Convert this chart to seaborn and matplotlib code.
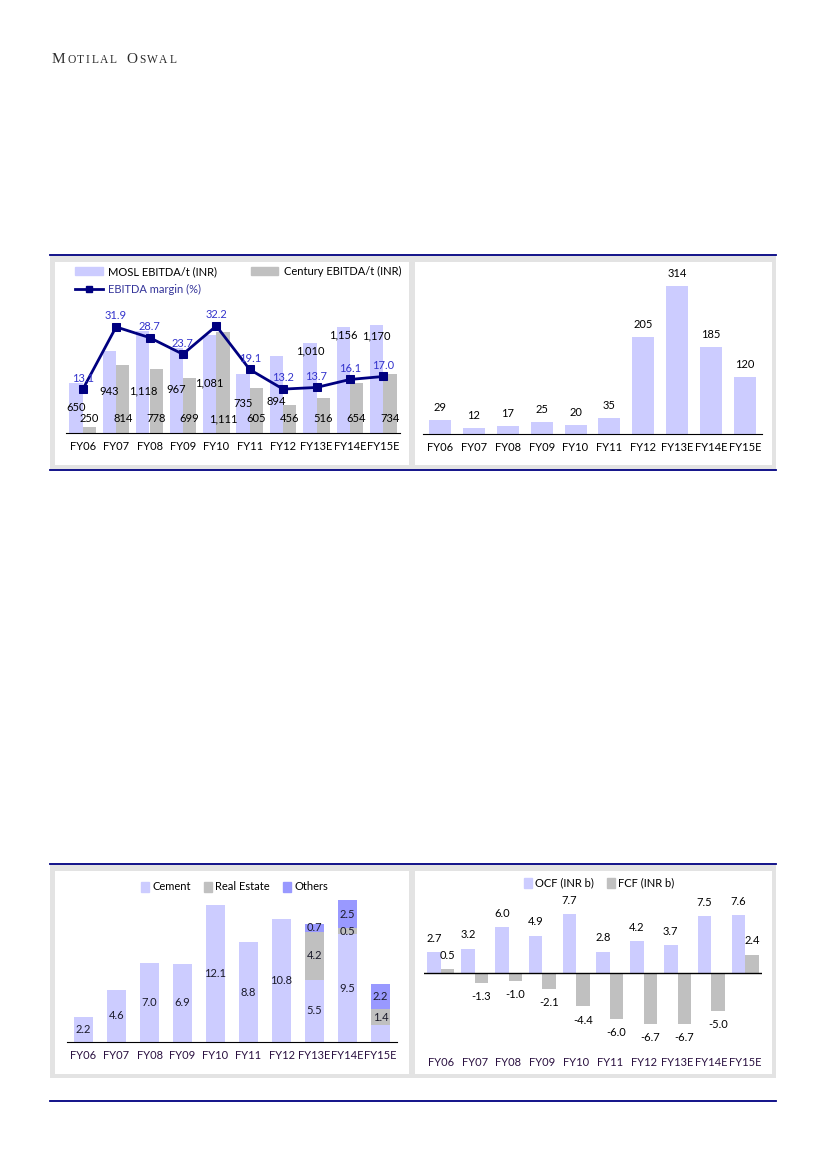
import matplotlib
matplotlib.use("Agg")
import matplotlib.pyplot as plt
from matplotlib.patches import Rectangle, Patch
from matplotlib.lines import Line2D
import seaborn as sns
import pandas as pd
import numpy as np

years = ["FY06", "FY07", "FY08", "FY09", "FY10", "FY11", "FY12", "FY13E", "FY14E", "FY15E"]
mosl_ebitda_t = [650, 943, 1118, 967, 1081, 735, 894, 1010, 1156, 1170]
century_ebitda_t = [250, 814, 778, 699, 1111, 605, 456, 516, 654, 734]
ebitda_margin = [13.1, 31.9, 28.7, 23.7, 32.2, 19.1, 13.2, 13.7, 16.1, 17.0]
# where the MOSL labels sit in the source (some were moved off the line)
mosl_label_at = [434, 575, 584, 590, 650, 470, 485, 940, 1085, 1077]
top_right = [29, 12, 17, 25, 20, 35, 205, 314, 185, 120]
cement = [2.2, 4.6, 7.0, 6.9, 12.1, 8.8, 10.8, 5.5, 9.5, 1.5]
real_estate = [0, 0, 0, 0, 0, 0, 0, 4.2, 0.5, 1.4]
others = [0, 0, 0, 0, 0, 0, 0, 0.7, 2.5, 2.2]
ocf = [2.7, 3.2, 6.0, 4.9, 7.7, 2.8, 4.2, 3.7, 7.5, 7.6]
fcf = [0.5, -1.3, -1.0, -2.1, -4.4, -6.0, -6.7, -6.7, -5.0, 2.4]

LAV = "#CCCCFF"
GRAY = "#C0C0C0"
PURP = "#9999FF"
NAVY = "#000080"
W, H = 826, 1169

plt.rcParams["font.family"] = ["Lato", "DejaVu Sans"]
plt.rcParams["font.size"] = 8


def box(x0, y0, x1, y1):
    return [x0 / W, 1 - y1 / H, (x1 - x0) / W, (y1 - y0) / H]


def rect(fig, x0, y0, x1, y1, color, z):
    fig.add_artist(Rectangle((x0 / W, 1 - y1 / H), (x1 - x0) / W, (y1 - y0) / H,
                             transform=fig.transFigure, color=color, zorder=z, lw=0))


def hline(fig, y, x0=50, x1=776):
    fig.add_artist(Line2D([x0 / W, x1 / W], [1 - y / H] * 2, transform=fig.transFigure,
                          color=NAVY, lw=1.3))


def clean(ax, keep_bottom=True):
    for s in ["top", "right", "left"]:
        ax.spines[s].set_visible(False)
    ax.spines["bottom"].set_visible(keep_bottom)
    ax.spines["bottom"].set_color("black")
    ax.set_yticks([])
    ax.set_xlabel("")
    ax.set_ylabel("")
    ax.set_facecolor("none")
    ax.tick_params(axis="x", length=0, pad=6, labelsize=8)


def small_caps(fig, words, x, y, big=11, small=8.3, gap=1.6, space=8):
    # draws text in small capitals, letter by letter
    r = fig.canvas.get_renderer()
    for w in words:
        for k, ch in enumerate(w):
            t = fig.text(x / W, 1 - y / H, ch, family="Liberation Serif",
                         fontsize=big if k == 0 else small, color="#2b2b2b")
            x += t.get_window_extent(r).width + gap
        x += space


fig = plt.figure(figsize=(8.26, 11.69), dpi=100)

small_caps(fig, ["MOTILAL", "OSWAL"], 52, 63)

# panel frames
for top in (256, 865):
    rect(fig, 50, top, 776, top + 213, "#E3E3E3", -3)
    rect(fig, 55, top + 6, 409, top + 209, "white", -2)
    rect(fig, 415, top + 6, 772, top + 209, "white", -2)
hline(fig, 255)
hline(fig, 470)
hline(fig, 864)
hline(fig, 1101)

# chart 1: EBITDA/t and margin
ax1 = fig.add_axes(box(66, 300, 400, 433))
df1 = pd.DataFrame({"year": years * 2,
                    "val": mosl_ebitda_t + century_ebitda_t,
                    "series": ["MOSL EBITDA/t (INR)"] * 10 + ["Century EBITDA/t (INR)"] * 10})
sns.barplot(data=df1, x="year", y="val", hue="series", palette=[LAV, GRAY],
            width=0.8, saturation=1, legend=False, ax=ax1)
ax1.set_ylim(200, 1400)
ax1.set_xlim(-0.5, 9.5)
clean(ax1)
for i, v in enumerate(mosl_ebitda_t):
    ax1.text(i - 0.2, mosl_label_at[i], f"{v:,}", ha="center", va="center", fontsize=8)
for i, v in enumerate(century_ebitda_t):
    ax1.text(i + 0.2, 330, f"{v:,}", ha="center", va="center", fontsize=8)
ax1b = ax1.twinx()
sns.lineplot(x=np.arange(10), y=ebitda_margin, ax=ax1b, color=NAVY, marker="s",
             markersize=6, markeredgecolor=NAVY, linewidth=2)
ax1b.set_ylim(0, 40)
clean(ax1b, keep_bottom=False)
for i, m in enumerate(ebitda_margin):
    ax1b.annotate(f"{m:.1f}", (i, m), xytext=(0, 8), textcoords="offset points",
                  ha="center", va="center", color="#3333CC", fontsize=8)
leg1 = ax1b.legend(handles=[Patch(color=LAV, label="MOSL EBITDA/t (INR)"),
                            Line2D([], [], color=NAVY, lw=2, marker="s", markersize=5,
                                   label="EBITDA margin (%)"),
                            Patch(color=GRAY, label="Century EBITDA/t (INR)")],
                   ncol=2, loc="upper left", bbox_to_anchor=(75 / W, 1 - 266 / H),
                   bbox_transform=fig.transFigure, frameon=False, fontsize=8,
                   handlelength=2.5, handletextpad=0.5, columnspacing=3.0,
                   borderpad=0, borderaxespad=0, labelspacing=0.6)
leg1.get_texts()[1].set_color("#333399")

# chart 2
ax2 = fig.add_axes(box(423, 269, 762, 434))
sns.barplot(x=years, y=top_right, color=LAV, saturation=1, width=0.65, ax=ax2)
ax2.set_ylim(0, 350)
ax2.set_xlim(-0.5, 9.5)
clean(ax2)
ax2.bar_label(ax2.containers[0], fmt="{:.0f}", padding=5, fontsize=8)

# chart 3: stacked by segment
ax3 = fig.add_axes(box(67, 883, 397, 1042))
tot = np.array(cement) + np.array(real_estate) + np.array(others)
mid = np.array(cement) + np.array(real_estate)
sns.barplot(x=years, y=tot, color=PURP, saturation=1, width=0.6, ax=ax3)
sns.barplot(x=years, y=mid, color=GRAY, saturation=1, width=0.6, ax=ax3)
sns.barplot(x=years, y=cement, color=LAV, saturation=1, width=0.6, ax=ax3)
ax3.set_ylim(0, 14)
ax3.set_xlim(-0.5, 9.5)
clean(ax3)
ax3.tick_params(axis="x", labelcolor="#2a1040")
for i in range(10):
    base = 0
    for name, seg in (("Cement", cement), ("Real Estate", real_estate), ("Others", others)):
        v = seg[i]
        if v > 0 and not (name == "Cement" and years[i] == "FY15E"):
            ax3.text(i, base + v / 2, f"{v:.1f}", ha="center", va="center", fontsize=8,
                     color="#1a1a2a")
        base += v
ax3.legend(handles=[Patch(color=LAV, label="Cement"), Patch(color=GRAY, label="Real Estate"),
                    Patch(color=PURP, label="Others")],
           ncol=3, loc="center left", bbox_to_anchor=(141 / W, 1 - 887 / H),
           bbox_transform=fig.transFigure, frameon=False, fontsize=8,
           handlelength=0.7, handleheight=1.0, handletextpad=0.3, columnspacing=1.2,
           borderpad=0, borderaxespad=0)

# chart 4: OCF / FCF
ax4 = fig.add_axes(box(424, 897, 762, 1049))
df4 = pd.DataFrame({"year": years * 2, "val": ocf + fcf,
                    "series": ["OCF (INR b)"] * 10 + ["FCF (INR b)"] * 10})
sns.barplot(data=df4, x="year", y="val", hue="series", palette=[LAV, GRAY],
            width=0.8, saturation=1, legend=False, ax=ax4)
ax4.set_ylim(-10, 10)
ax4.set_xlim(-0.5, 9.5)
clean(ax4, keep_bottom=False)
ax4.axhline(0, color="black", lw=1)
ax4.tick_params(axis="x", labelcolor="#2a1040")
for c in ax4.containers:
    ax4.bar_label(c, fmt="{:.1f}", padding=6, fontsize=8)
ax4.legend(handles=[Patch(color=LAV, label="OCF (INR b)"), Patch(color=GRAY, label="FCF (INR b)")],
           ncol=2, loc="center left", bbox_to_anchor=(524 / W, 1 - 883 / H),
           bbox_transform=fig.transFigure, frameon=False, fontsize=8,
           handlelength=0.7, handleheight=1.0, handletextpad=0.3, columnspacing=1.2,
           borderpad=0, borderaxespad=0)

fig.savefig("out.png", dpi=100)
